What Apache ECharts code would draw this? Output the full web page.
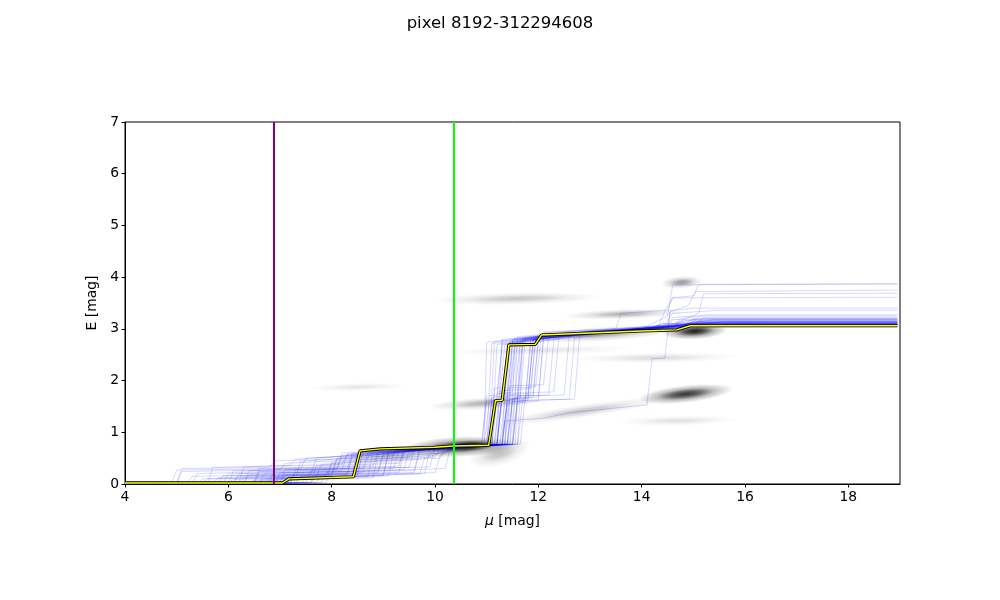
<!DOCTYPE html>
<html><head><meta charset="utf-8">
<script src="https://cdn.jsdelivr.net/npm/echarts@6/dist/echarts.min.js"></script>
<style>html,body{margin:0;padding:0;background:#fff}#c{width:1000px;height:600px}</style>
</head><body><div id="c"></div>
<script>
const titleText = 'pixel 8192-312294608';
const xName = 'μ';
const yName = 'E [mag]';
const xMin = 4, xMax = 19, xStep = 2;
const yMin = 0, yMax = 7, yStep = 1;
const purpleX = 6.884;
const greenX = 10.367;

const mainPath = [[4,0.02],[7.05,0.02],[7.17,0.1],[8.42,0.14],[8.55,0.64],[8.95,0.68],[10.0,0.71],[10.35,0.735],[11.04,0.75],[11.17,1.61],[11.3,1.62],[11.43,2.69],[11.94,2.70],[12.06,2.88],[13.0,2.92],[14.0,2.96],[14.68,2.98],[14.94,3.06],[18.95,3.06]];

const samplePaths = [
[[4,.02],[4.9,.02],[5.0,.27],[7.4,.3],[7.5,.5],[9.6,.6],[10.9,.74],[11.0,1.7],[11.2,1.72],[11.3,2.75],[12.4,2.9],[14.8,3.05],[15.0,3.15],[18.95,3.15]],
[[4,.01],[5.3,.01],[5.4,.2],[8.1,.28],[8.2,.55],[10.5,.72],[11.05,.76],[11.15,1.62],[11.4,1.65],[11.5,2.8],[13.5,2.98],[15.3,3.08],[18.95,3.08]],
[[4,0],[6.1,.02],[6.2,.15],[8.5,.2],[8.6,.58],[10.3,.7],[11.0,.74],[11.1,2.72],[12.0,2.8],[12.1,2.92],[15.0,3.1],[18.95,3.1]],
[[4,.02],[6.5,.03],[6.6,.3],[8.8,.35],[8.9,.62],[10.95,.75],[11.05,1.6],[11.6,1.63],[11.7,2.78],[13.8,3.0],[15.2,3.12],[18.95,3.12]],
[[4,.01],[6.9,.03],[7.0,.1],[9.0,.18],[9.1,.6],[11.2,.77],[11.3,1.75],[11.5,1.78],[11.6,2.85],[14.5,3.05],[18.95,3.07]],
[[4,0],[7.2,.04],[7.3,.22],[9.4,.28],[9.5,.65],[11.3,.76],[11.4,2.7],[12.2,2.88],[14.4,3.02],[14.6,3.3],[15.5,3.36],[18.95,3.36]],
[[4,.02],[5.7,.02],[5.8,.12],[7.9,.18],[8.0,.42],[9.9,.55],[10.0,.68],[11.3,.75],[11.4,1.58],[11.8,1.62],[11.9,2.8],[14.0,3.0],[15.4,3.18],[18.95,3.18]],
[[4,.01],[6.0,.01],[6.1,.25],[8.3,.3],[8.4,.6],[10.7,.73],[11.4,.77],[11.5,2.78],[13.0,2.95],[15.0,3.08],[15.2,3.2],[18.95,3.2]],
[[4,0],[6.7,.01],[6.8,.08],[9.7,.2],[9.8,.5],[10.4,.7],[11.5,.76],[11.6,1.7],[11.9,1.72],[12.0,2.85],[14.2,3.02],[14.4,3.1],[18.95,3.1]],
[[4,.02],[7.6,.03],[7.7,.35],[9.3,.4],[9.4,.64],[11.55,.77],[11.65,2.76],[12.5,2.9],[14.6,3.0],[14.75,3.2],[15.2,3.25],[18.95,3.25]],
[[4,.01],[5.0,.01],[5.1,.3],[6.8,.32],[6.9,.45],[8.7,.5],[8.8,.66],[11.6,.77],[11.7,1.65],[11.8,1.66],[11.9,2.8],[14.0,2.98],[15.6,3.14],[18.95,3.14]],
[[4,0],[6.3,.02],[6.4,.18],[8.6,.22],[8.7,.52],[10.2,.6],[10.3,.73],[11.2,.76],[11.3,1.72],[11.8,1.75],[11.9,2.74],[13.2,2.95],[15.1,3.1],[18.95,3.1]],
[[4,.02],[7.0,.02],[7.1,.28],[9.5,.32],[9.6,.66],[11.3,.77],[11.4,1.55],[12.0,1.6],[12.1,2.82],[14.6,3.05],[15.3,3.16],[18.95,3.16]],
[[4,.01],[5.5,.02],[5.6,.1],[7.7,.14],[7.8,.38],[10.1,.5],[10.2,.7],[11.2,.77],[11.3,1.8],[11.85,1.85],[11.95,2.8],[14.3,3.0],[14.45,3.35],[14.6,3.6],[18.95,3.61]],
[[4,0],[6.6,.02],[6.7,.2],[8.9,.26],[9.0,.6],[11.4,.77],[11.5,1.65],[11.9,1.68],[12.0,2.75],[13.6,2.95],[15.0,3.06],[18.95,3.06]],
[[4,.02],[7.3,.02],[7.4,.15],[10.0,.22],[10.1,.55],[10.4,.72],[11.1,.76],[11.2,1.75],[12.3,1.78],[12.4,2.9],[14.5,3.08],[15.2,3.22],[18.95,3.22]],
[[4,.01],[6.2,.01],[6.3,.33],[8.2,.38],[8.3,.57],[10.6,.74],[11.35,.77],[11.45,1.9],[12.1,1.92],[12.2,2.85],[14.0,3.0],[14.5,3.25],[14.6,3.85],[18.95,3.87]],
[[4,0],[7.8,.03],[7.9,.22],[10.2,.3],[10.3,.72],[11.2,.77],[11.3,1.7],[12.5,1.72],[12.6,2.88],[14.5,3.05],[15.1,3.3],[15.2,3.68],[18.95,3.69]],
[[4,.02],[6.8,.02],[6.9,.12],[8.0,.16],[8.1,.48],[10.4,.73],[11.4,.77],[11.5,1.6],[12.6,1.64],[12.7,2.82],[14.4,3.02],[15.0,3.12],[18.95,3.12]],
[[4,.01],[5.9,.02],[6.0,.2],[8.4,.24],[8.5,.6],[10.8,.74],[10.95,.75],[11.0,2.74],[12.0,2.85],[14.7,3.0],[14.9,3.08],[18.95,3.08]],
[[4,0],[7.1,.03],[7.2,.12],[8.45,.14],[8.55,.63],[10.9,.74],[11.0,1.62],[11.25,1.64],[11.35,2.7],[12.0,2.78],[12.1,2.9],[15.0,3.1],[18.95,3.1]],
[[4,.02],[6.4,.02],[6.5,.08],[9.0,.16],[9.1,.62],[11.0,.75],[11.1,1.68],[11.3,1.7],[11.4,2.72],[13.4,2.95],[14.9,3.04],[15.0,3.14],[18.95,3.14]],
[[4,.01],[7.5,.02],[7.6,.26],[9.2,.3],[9.3,.64],[11.05,.75],[11.15,2.75],[12.6,2.92],[14.7,3.02],[15.0,3.12],[18.95,3.12]],
[[4,0],[5.2,.01],[5.3,.15],[7.6,.18],[7.7,.5],[10.0,.68],[11.1,.75],[11.2,1.62],[11.35,1.63],[11.45,2.74],[13.0,2.92],[15.2,3.06],[18.95,3.06]],
[[4,.02],[6.6,.02],[6.7,.1],[8.5,.15],[8.6,.64],[11.15,.76],[11.25,1.8],[11.45,1.82],[11.55,2.82],[14.0,3.02],[14.5,3.08],[14.6,3.22],[15.3,3.27],[18.95,3.27]],
[[4,.01],[7.0,.01],[7.1,.18],[8.9,.22],[9.0,.56],[10.3,.72],[11.2,.76],[11.3,2.8],[13.6,2.98],[15.4,3.1],[18.95,3.1]],
[[4,0],[6.0,.02],[6.1,.09],[8.7,.14],[8.8,.62],[11.25,.76],[11.35,1.6],[11.45,1.62],[11.55,2.72],[12.3,2.85],[14.8,3.04],[18.95,3.04]],
[[4,.02],[6.9,.02],[7.0,.22],[9.6,.26],[9.7,.66],[11.3,.76],[11.4,1.7],[11.55,1.72],[11.65,2.8],[13.7,2.98],[15.3,3.12],[18.95,3.12]],
[[4,.01],[5.6,.01],[5.7,.32],[7.2,.36],[7.3,.48],[9.8,.64],[11.35,.77],[11.45,2.76],[13.1,2.95],[14.5,3.0],[14.6,3.18],[18.95,3.18]],
[[4,0],[7.4,.02],[7.5,.1],[9.1,.16],[9.2,.62],[11.4,.77],[11.5,1.64],[11.65,1.66],[11.75,2.84],[14.1,3.0],[15.0,3.08],[18.95,3.08]],
[[4,.02],[6.2,.02],[6.3,.12],[8.0,.18],[8.1,.5],[10.5,.73],[11.45,.77],[11.55,2.7],[12.4,2.86],[14.9,3.06],[18.95,3.06]],
[[4,.01],[6.5,.01],[6.6,.24],[8.6,.3],[8.7,.6],[11.5,.77],[11.6,1.58],[11.75,1.6],[11.85,2.76],[13.5,2.96],[15.5,3.14],[18.95,3.14]],
[[4,0],[7.7,.03],[7.8,.14],[9.8,.2],[9.9,.68],[11.6,.77],[11.7,2.8],[14.2,3.02],[14.4,3.1],[18.95,3.1]],
[[4,.02],[5.8,.02],[5.9,.16],[8.3,.2],[8.4,.56],[10.7,.74],[11.65,.77],[11.75,1.72],[11.85,1.74],[11.95,2.86],[14.8,3.06],[15.0,3.2],[18.95,3.2]],
[[4,.01],[6.8,.02],[6.9,.3],[9.3,.34],[9.4,.66],[11.15,.76],[11.25,1.62],[11.75,1.65],[11.85,2.78],[13.3,2.95],[14.5,3.04],[14.55,3.35],[15.0,3.4],[18.95,3.4]],
[[4,0],[6.4,.01],[6.5,.06],[8.8,.12],[8.9,.6],[11.3,.77],[11.4,1.66],[12.0,1.68],[12.1,2.85],[14.6,3.05],[14.8,3.16],[18.95,3.16]],
[[4,.02],[7.2,.02],[7.3,.28],[9.9,.33],[10.0,.7],[11.05,.76],[11.15,1.85],[11.95,1.88],[12.05,2.82],[14.0,3.0],[15.2,3.12],[18.95,3.12]],
[[4,.01],[6.1,.02],[6.2,.2],[8.2,.26],[8.3,.58],[10.6,.73],[11.25,.76],[11.35,1.22],[12.1,1.27],[12.6,1.38],[13.7,1.49],[14.1,1.53],[14.2,2.42],[14.45,2.44],[14.55,3.33],[14.9,3.45],[15.05,3.72],[18.95,3.75]],
[[4,0],[5.0,.01],[5.1,.24],[7.0,.28],[7.1,.4],[9.5,.52],[9.6,.7],[11.45,.77],[11.55,1.7],[12.2,1.72],[12.3,2.8],[13.8,2.98],[15.1,3.1],[18.95,3.1]],
[[4,.01],[6.7,.01],[6.8,.14],[8.3,.18],[8.4,.52],[10.2,.7],[11.5,.77],[11.6,1.62],[12.7,1.64],[12.8,2.88],[14.9,3.08],[15.0,3.18],[18.95,3.18]],
[[4,.02],[7.9,.03],[8.0,.4],[10.0,.52],[10.1,.7],[11.1,.75],[11.2,2.7],[12.0,2.8],[12.1,2.94],[13.5,3.0],[13.6,3.3],[14.5,3.36],[14.6,3.6],[15.0,3.64],[15.1,3.86],[18.95,3.87]],
[[4,.01],[5.4,.01],[5.5,.1],[7.3,.12],[7.4,.44],[9.2,.55],[9.3,.68],[11.2,.76],[11.3,1.66],[11.4,1.68],[11.5,2.76],[13.9,2.98],[14.9,3.05],[15.0,3.14],[18.95,3.14]],
[[4,0],[6.9,.02],[7.0,.16],[9.6,.22],[9.7,.64],[11.5,.77],[11.6,2.78],[13.0,2.95],[15.3,3.1],[18.95,3.1]],
[[4,.02],[6.3,.02],[6.4,.26],[8.1,.3],[8.2,.6],[10.8,.74],[11.0,.75],[11.1,1.6],[11.2,1.61],[11.3,2.7],[11.95,2.72],[12.05,2.88],[14.65,3.0],[14.9,3.08],[18.95,3.08]],
[[4,.01],[7.6,.02],[7.7,.18],[9.3,.22],[9.4,.62],[11.35,.77],[11.45,1.64],[11.6,1.66],[11.7,2.8],[14.6,3.04],[14.75,3.12],[18.95,3.12]]
];

// density blobs: [x1, y1, x2, y2, halfThickness(mag), darkness]
const densityBlobs = [
[6.0,0.1, 9.5,0.4, 0.3, 0.06],
[8.3,0.48, 10.2,0.66, 0.18, 0.25],
[9.6,0.68, 11.35,0.76, 0.2, 0.85],
[10.3,0.72, 11.1,0.77, 0.11, 0.95],
[10.9,0.5, 11.6,0.7, 0.25, 0.25],
[10.0,1.5, 11.9,1.62, 0.12, 0.3],
[7.6,1.85, 9.4,1.9, 0.08, 0.1],
[11.4,1.2, 14.3,1.62, 0.13, 0.22],
[14.1,1.66, 15.6,1.82, 0.17, 0.8],
[13.6,1.2, 15.8,1.25, 0.1, 0.12],
[11.8,2.82, 14.6,2.98, 0.14, 0.35],
[14.55,2.93, 15.5,2.98, 0.16, 0.9],
[12.8,2.42, 15.8,2.46, 0.1, 0.14],
[10.3,2.55, 13.8,2.62, 0.09, 0.1],
[12.6,3.25, 14.7,3.32, 0.1, 0.3],
[10.1,3.55, 13.1,3.62, 0.12, 0.22],
[14.5,3.88, 15.05,3.92, 0.12, 0.4],
[15.2,3.1, 16.6,3.1, 0.08, 0.1]
];

const chart = echarts.init(document.getElementById('c'), null, {renderer:'canvas'});
const FONT = 'DejaVu Sans';

function renderBlob(params, api) {
  const p1 = api.coord([api.value(0), api.value(1)]);
  const p2 = api.coord([api.value(2), api.value(3)]);
  const th = Math.abs(api.size([0, api.value(4)])[1]);
  const a = api.value(5);
  const dx = p2[0]-p1[0], dy = p2[1]-p1[1];
  const half = Math.sqrt(dx*dx+dy*dy)/2 + th;
  const rot = -Math.atan2(dy, dx);
  return {
    type: 'circle',
    x: (p1[0]+p2[0])/2, y: (p1[1]+p2[1])/2,
    scaleX: half/10, scaleY: th/10, rotation: rot,
    shape: {cx:0, cy:0, r:10},
    style: {
      fill: new echarts.graphic.RadialGradient(0.5,0.5,0.5,[
        {offset:0, color:'rgba(0,0,0,'+a+')'},
        {offset:0.3, color:'rgba(0,0,0,'+(a*0.75)+')'},
        {offset:0.6, color:'rgba(0,0,0,'+(a*0.3)+')'},
        {offset:1, color:'rgba(0,0,0,0)'}
      ])
    }
  };
}

const series = [];
series.push({
  type:'custom', renderItem: renderBlob, data: densityBlobs, silent:true, z:1, clip:true,
  encode:{x:[0,2], y:[1,3]}
});
samplePaths.forEach(p => series.push({
  type:'line', data:p, symbol:'none', silent:true, z:2,
  lineStyle:{color:'#0000ff', width:0.8, opacity:0.2}
}));
series.push({type:'line', data:mainPath, symbol:'none', silent:true, z:3, lineStyle:{color:'#000', width:3.2}});
series.push({type:'line', data:mainPath, symbol:'none', silent:true, z:4, lineStyle:{color:'#ffff00', width:1.4}});
series.push({type:'line', data:[[purpleX,yMin],[purpleX,yMax]], symbol:'none', silent:true, z:5, lineStyle:{color:'#800080', width:2}});
series.push({type:'line', data:[[greenX,yMin],[greenX,yMax]], symbol:'none', silent:true, z:5, lineStyle:{color:'#00ff00', width:2}});

chart.setOption({
  animation:false,
  backgroundColor:'#fff',
  title:{text:titleText, left:'center', top:10, textStyle:{fontFamily:FONT, fontSize:16.5, fontWeight:'normal', color:'#000'}},
  grid:{left:125, right:100, top:122, bottom:116, show:true, borderColor:'#000', borderWidth:1, backgroundColor:'transparent'},
  xAxis:{type:'value', min:xMin, max:xMax, interval:xStep,
    name:'{i|' + xName + '} [mag]', nameLocation:'middle', nameGap:30,
    nameTextStyle:{fontFamily:FONT, fontSize:13.9, color:'#000', rich:{i:{fontFamily:FONT, fontSize:13.9, fontStyle:'italic', color:'#000'}}},
    axisLine:{show:true, lineStyle:{color:'#000', width:1}},
    axisTick:{show:true, inside:false, length:3.5, lineStyle:{color:'#000'}},
    axisLabel:{fontFamily:FONT, fontSize:13.9, color:'#000', margin:6, showMaxLabel:false},
    splitLine:{show:false}},
  yAxis:{type:'value', min:yMin, max:yMax, interval:yStep,
    name:yName, nameLocation:'middle', nameGap:26, nameRotate:90,
    nameTextStyle:{fontFamily:FONT, fontSize:13.9, color:'#000'},
    axisLine:{show:true, lineStyle:{color:'#000', width:1}},
    axisTick:{show:true, inside:false, length:3.5, lineStyle:{color:'#000'}},
    axisLabel:{fontFamily:FONT, fontSize:13.9, color:'#000', margin:6},
    splitLine:{show:false}},
  series: series
});
</script></body></html>
